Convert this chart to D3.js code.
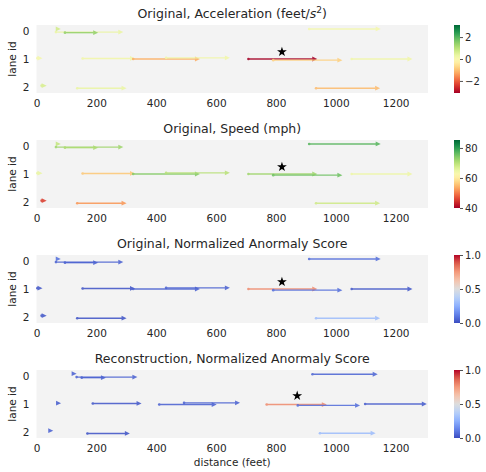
<!DOCTYPE html>
<html>
<head>
<meta charset="utf-8">
<script src="https://cdn.jsdelivr.net/npm/d3@7"></script>
<style>
body { margin: 0; background: #fff; }
text { font-family: "DejaVu Sans", sans-serif; fill: #262626; }
</style>
</head>
<body>
<div id="chart"></div>
<script>
// original trajectories (used by the first three panels)
var origStart = [65, 65, 95, 911, 3, 154, 323, 433, 708, 791, 1053, 17, 136, 934];
var origEnd   = [81, 290, 206, 1150, 20, 329, 546, 646, 938, 1022, 1256, 34, 301, 1148];
var origLane  = [-0.06, 0.05, 0.07, -0.06, 0.97, 0.98, 1.0, 0.96, 1.0, 1.04, 1.0, 1.94, 2.03, 2.03];
var accel     = [0.7, 0.3, 1.4, 0.1, 0.1, 0.2, -1.2, 0.2, -3.1, -0.8, 0.2, 0.6, 0.3, -1.05];
var speed     = [69, 72, 71, 77, 65, 56, 74, 70, 72, 75.5, 64.5, 45.5, 52, 68];
var origScore = [0.08, 0.05, 0.05, 0.08, 0.03, 0.02, 0.05, 0.05, 0.78, 0.08, 0.03, 0.03, 0.02, 0.3];
var origStar  = [820, 0.75];

// reconstructed trajectories
var reconStart = [118, 134, 151, 922, 66, 188, 410, 493, 769, 873, 1098, 40, 170, 947];
var reconEnd   = [134, 337, 232, 1140, 82, 351, 602, 680, 970, 1081, 1304, 56, 312, 1133];
var reconLane  = [-0.07, 0.05, 0.07, -0.05, 0.97, 0.98, 1.02, 0.96, 1.02, 1.05, 1.0, 1.94, 2.04, 2.03];
var reconScore = [0.05, 0.05, 0.05, 0.06, 0.04, 0.03, 0.05, 0.05, 0.78, 0.08, 0.04, 0.05, 0.02, 0.3];
var reconStar  = [871, 0.71];

var xTicks = [0, 200, 400, 600, 800, 1000, 1200];
var laneTicks = [0, 1, 2];
var accelTicks = [-2, 0, 2];
var speedTicks = [40, 60, 80];
var scoreTicks = [0, 0.5, 1];

var width = 486, height = 472;
var left = 36.5, right = 428, plotH = 68;

var svg = d3.select("#chart").append("svg")
    .attr("width", width)
    .attr("height", height);

var x = d3.scaleLinear().domain([0, 1308]).range([left, right]);

var coolwarm = d3.scaleLinear()
    .domain([0, 0.125, 0.25, 0.375, 0.5, 0.625, 0.75, 0.875, 1])
    .range(["#3b4cc0", "#6282ea", "#8db0fe", "#b8d0f9", "#dddddd", "#f5c4ad", "#f49a7b", "#de604d", "#b40426"])
    .interpolate(d3.interpolateRgb)
    .clamp(true);

function rdylgn(lo, hi) {
    return d3.scaleSequential(d3.interpolateRdYlGn).domain([lo, hi]).clamp(true);
}

var panels = [
    { top: 25, title: "accel", start: origStart, end: origEnd, lane: origLane, val: accel,
      color: rdylgn(-3.1, 3.1), ticks: accelTicks, fmt: d3.format("d"), star: origStar },
    { top: 140, title: "Original, Speed (mph)", start: origStart, end: origEnd, lane: origLane, val: speed,
      color: rdylgn(40, 85.3), ticks: speedTicks, fmt: d3.format("d"), star: origStar },
    { top: 255, title: "Original, Normalized Anormaly Score", start: origStart, end: origEnd, lane: origLane, val: origScore,
      color: coolwarm, ticks: scoreTicks, fmt: d3.format(".1f"), star: origStar },
    { top: 370, title: "Reconstruction, Normalized Anormaly Score", start: reconStart, end: reconEnd, lane: reconLane, val: reconScore,
      color: coolwarm, ticks: scoreTicks, fmt: d3.format(".1f"), star: reconStar }
];

panels.forEach(function(p, i) {
    var y = d3.scaleLinear().domain([-0.2, 2.2]).range([p.top, p.top + plotH]);
    var g = svg.append("g");

    g.append("rect")
        .attr("x", left).attr("y", p.top)
        .attr("width", right - left).attr("height", plotH)
        .attr("fill", "#f3f3f3");

    // title
    var t = g.append("text")
        .attr("x", (left + right) / 2).attr("y", p.top - 7)
        .attr("text-anchor", "middle")
        .style("font-size", "12.5px");
    if (p.title == "accel") {
        t.append("tspan").text("Original, Acceleration (feet/");
        t.append("tspan").style("font-style", "italic").text("s");
        t.append("tspan").attr("dy", -5).style("font-size", "9px").text("2");
        t.append("tspan").attr("dy", 5).text(")");
    } else {
        t.text(p.title);
    }

    // axes
    var xa = g.append("g")
        .attr("transform", "translate(0," + (p.top + plotH) + ")")
        .call(d3.axisBottom(x).tickValues(xTicks).tickFormat(d3.format("d")).tickSize(0).tickPadding(7));
    var ya = g.append("g")
        .attr("transform", "translate(" + left + ",0)")
        .call(d3.axisLeft(y).tickValues(laneTicks).tickFormat(d3.format("d")).tickSize(0).tickPadding(7));
    [xa, ya].forEach(function(a) {
        a.select(".domain").remove();
        a.selectAll("text").style("font-size", "10.5px").attr("fill", "#262626");
    });

    g.append("text")
        .attr("transform", "translate(12," + y(1) + ") rotate(-90)")
        .attr("text-anchor", "middle")
        .attr("dy", "0.35em")
        .style("font-size", "10.5px")
        .text("lane id");

    // arrows
    var idx = d3.range(p.start.length);
    var arrows = g.append("g").selectAll("g").data(idx).enter().append("g")
        .attr("opacity", 0.88);
    var head = 5, hw = 2.4;
    arrows.each(function(k) {
        var a = d3.select(this);
        var x0 = x(p.start[k]), x1 = x(p.end[k]), yy = y(p.lane[k]);
        var c = p.color(p.val[k]);
        if (x1 - x0 > head) {
            a.append("line")
                .attr("x1", x0).attr("x2", x1 - head + 0.5)
                .attr("y1", yy).attr("y2", yy)
                .attr("stroke", c).attr("stroke-width", 1.4);
            a.append("circle")
                .attr("cx", x0).attr("cy", yy).attr("r", 1.3)
                .attr("fill", c);
        }
        a.append("path")
            .attr("d", "M" + (x1 - head) + "," + (yy - hw) + "L" + x1 + "," + yy + "L" + (x1 - head) + "," + (yy + hw) + "Z")
            .attr("fill", c);
    });

    g.append("path")
        .attr("transform", "translate(" + x(p.star[0]) + "," + y(p.star[1]) + ")")
        .attr("d", d3.symbol().type(d3.symbolStar).size(30))
        .attr("fill", "#000");

    // colorbar
    var cbx = 454, cbw = 6;
    var lo = p.color.domain()[0], hi = p.color.domain()[p.color.domain().length - 1];
    var grad = svg.append("defs").append("linearGradient")
        .attr("id", "cb" + i)
        .attr("x1", 0).attr("y1", 1).attr("x2", 0).attr("y2", 0);
    d3.range(21).forEach(function(s) {
        grad.append("stop")
            .attr("offset", s / 20)
            .attr("stop-color", p.color(lo + (hi - lo) * s / 20));
    });
    g.append("rect")
        .attr("x", cbx).attr("y", p.top)
        .attr("width", cbw).attr("height", plotH)
        .attr("fill", "url(#cb" + i + ")");
    var cy = d3.scaleLinear().domain([lo, hi]).range([p.top + plotH, p.top]);
    var ca = g.append("g")
        .attr("transform", "translate(" + (cbx + cbw) + ",0)")
        .call(d3.axisRight(cy).tickValues(p.ticks).tickFormat(p.fmt).tickSize(3).tickPadding(2));
    ca.select(".domain").remove();
    ca.selectAll("line").attr("stroke", "#262626").attr("stroke-width", 0.8);
    ca.selectAll("text").style("font-size", "10px").attr("fill", "#262626");
});

svg.append("text")
    .attr("x", (left + right) / 2).attr("y", 466)
    .attr("text-anchor", "middle")
    .style("font-size", "10.5px")
    .text("distance (feet)");
</script>
</body>
</html>
